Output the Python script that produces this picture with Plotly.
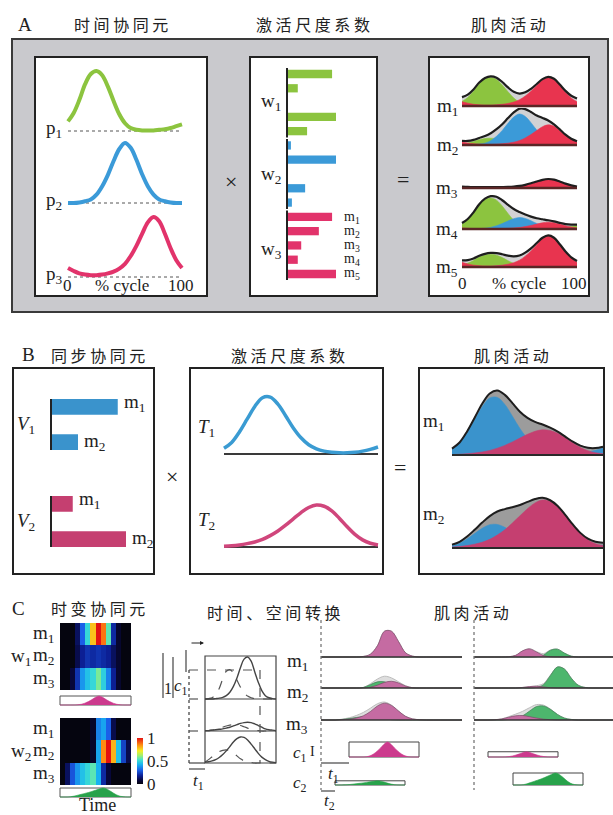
import plotly.graph_objects as go

W, H = 613, 815
SERIF = "Liberation Serif, DejaVu Serif, serif"
CJK = "Noto Sans CJK SC"
INK = "#222222"

# ---------------- data ----------------
cycle = list(range(0, 101, 5))          # % of cycle / time samples

# Panel A: temporal synergies p1..p3
p1 = [0.16, 0.30, 0.52, 0.78, 0.95, 1.00, 0.93, 0.74, 0.50, 0.28, 0.13, 0.05, 0.02, 0.01, 0.01, 0.01, 0.02, 0.03, 0.05, 0.08, 0.11]
p2 = [0.00, 0.00, 0.01, 0.03, 0.06, 0.14, 0.28, 0.47, 0.70, 0.90, 1.00, 0.92, 0.72, 0.48, 0.28, 0.14, 0.06, 0.03, 0.01, 0.00, 0.00]
p3 = [0.15, 0.10, 0.06, 0.04, 0.03, 0.03, 0.04, 0.06, 0.09, 0.14, 0.22, 0.35, 0.52, 0.72, 0.91, 1.00, 0.93, 0.72, 0.48, 0.28, 0.15]
# activation scaling coefficients for muscles m1..m5
w1 = [0.92, 0.22, 0.02, 1.00, 0.41]
w2 = [0.08, 1.00, 0.00, 0.37, 0.10]
w3 = [0.92, 0.65, 0.29, 0.22, 1.00]
muscles5 = ["m<sub>1</sub>", "m<sub>2</sub>", "m<sub>3</sub>", "m<sub>4</sub>", "m<sub>5</sub>"]

# Panel B: synchronous synergies V1, V2 and activation profiles T1, T2
V1 = [0.89, 0.36]
V2 = [0.29, 1.00]
T1 = [0.10, 0.20, 0.38, 0.60, 0.82, 0.97, 0.98, 0.86, 0.66, 0.45, 0.28, 0.16, 0.09, 0.05, 0.03, 0.02, 0.02, 0.03, 0.05, 0.08, 0.12]
T2 = [0.02, 0.03, 0.05, 0.08, 0.12, 0.18, 0.27, 0.38, 0.52, 0.67, 0.82, 0.94, 1.00, 0.97, 0.86, 0.68, 0.48, 0.30, 0.17, 0.09, 0.05]
# contribution of T1 / T2 to muscle m1, m2 activity
B_gain_T1 = [0.98, 0.40]
B_gain_T2 = [0.42, 0.80]

# Panel C: time-varying synergies (rows m1..m3, 14 time bins)
heat_w1 = [
    [0, 0, 0, 0.12, 0.30, 0.50, 0.78, 1.00, 0.88, 0.55, 0.20, 0.06, 0, 0],
    [0, 0, 0, 0.10, 0.18, 0.22, 0.20, 0.22, 0.20, 0.18, 0.12, 0.06, 0, 0],
    [0, 0, 0.08, 0.22, 0.38, 0.45, 0.50, 0.58, 0.48, 0.35, 0.18, 0.06, 0, 0],
]
heat_w2 = [
    [0, 0, 0, 0, 0, 0, 0.05, 0.35, 0.40, 0.30, 0.10, 0, 0, 0],
    [0, 0, 0, 0, 0, 0, 0.05, 0.40, 0.85, 1.00, 0.80, 0.45, 0.25, 0.10],
    [0, 0.12, 0.28, 0.38, 0.45, 0.50, 0.55, 0.42, 0.20, 0.08, 0, 0, 0, 0],
]
act_w1 = [0, 0, 0, 0, 0, 0.02, 0.08, 0.20, 0.38, 0.60, 0.85, 1.00, 0.85, 0.60, 0.38, 0.20, 0.08, 0.02, 0, 0, 0]
act_w2 = [0, 0, 0, 0.03, 0.10, 0.20, 0.30, 0.40, 0.50, 0.62, 0.75, 0.88, 1.00, 0.92, 0.70, 0.45, 0.22, 0.08, 0.02, 0, 0]

# time / space shift sketch: solid = synergy, dashed = shifted & scaled copy
sch_solid = [
    [0, 0, 0, 0.01, 0.02, 0.04, 0.08, 0.16, 0.30, 0.50, 0.75, 0.95, 1.00, 0.90, 0.65, 0.40, 0.20, 0.08, 0.03, 0.01, 0],
    [0.01, 0.01, 0.02, 0.03, 0.04, 0.05, 0.07, 0.09, 0.12, 0.15, 0.18, 0.20, 0.21, 0.20, 0.17, 0.13, 0.09, 0.05, 0.03, 0.02, 0.01],
    [0.02, 0.03, 0.05, 0.08, 0.13, 0.20, 0.29, 0.39, 0.50, 0.58, 0.62, 0.61, 0.55, 0.45, 0.34, 0.23, 0.14, 0.08, 0.04, 0.02, 0.01],
]
sch_dash = [
    [0, 0.01, 0.03, 0.10, 0.25, 0.48, 0.66, 0.70, 0.62, 0.45, 0.28, 0.15, 0.07, 0.03, 0.01, 0, 0, 0, 0, 0, 0],
    [0.01, 0.01, 0.02, 0.04, 0.06, 0.09, 0.12, 0.14, 0.15, 0.15, 0.13, 0.10, 0.07, 0.04, 0.02, 0.01, 0, 0, 0, 0, 0],
    [0.02, 0.08, 0.15, 0.22, 0.27, 0.30, 0.31, 0.29, 0.24, 0.17, 0.10, 0.05, 0.02, 0.01, 0, 0, 0, 0, 0, 0, 0],
]

# muscle activity in two conditions (left / right), synergy-1 part and synergy-2 part
C_left_w1 = [
    [0, 0, 0, 0, 0, 0, 0.02, 0.10, 0.40, 0.92, 0.92, 0.55, 0.15, 0.03, 0, 0, 0, 0, 0, 0, 0],
    [0, 0, 0, 0, 0, 0, 0, 0.03, 0.10, 0.20, 0.24, 0.18, 0.07, 0.01, 0, 0, 0, 0, 0, 0, 0],
    [0, 0, 0, 0.01, 0.03, 0.07, 0.15, 0.30, 0.50, 0.60, 0.52, 0.32, 0.13, 0.04, 0.01, 0, 0, 0, 0, 0, 0],
]
C_left_w2 = [
    [0, 0, 0, 0, 0, 0, 0, 0, 0, 0, 0, 0, 0, 0, 0, 0, 0, 0, 0, 0, 0],
    [0, 0, 0, 0, 0, 0, 0.02, 0.12, 0.22, 0.22, 0.12, 0.04, 0.01, 0, 0, 0, 0, 0, 0, 0, 0],
    [0, 0, 0, 0.02, 0.05, 0.09, 0.12, 0.12, 0.08, 0.04, 0.01, 0, 0, 0, 0, 0, 0, 0, 0, 0, 0],
]
C_right_w1 = [
    [0, 0, 0, 0, 0, 0.01, 0.06, 0.22, 0.29, 0.18, 0.05, 0.01, 0, 0, 0, 0, 0, 0, 0, 0, 0],
    [0, 0, 0, 0, 0, 0, 0, 0.02, 0.05, 0.06, 0.04, 0.01, 0, 0, 0, 0, 0, 0, 0, 0, 0],
    [0, 0, 0, 0.01, 0.04, 0.10, 0.15, 0.16, 0.12, 0.07, 0.03, 0.01, 0, 0, 0, 0, 0, 0, 0, 0, 0],
]
C_right_w2 = [
    [0, 0, 0, 0, 0, 0, 0, 0, 0, 0.01, 0.07, 0.24, 0.28, 0.14, 0.03, 0, 0, 0, 0, 0, 0],
    [0, 0, 0, 0, 0, 0, 0, 0, 0, 0.02, 0.12, 0.45, 0.75, 0.68, 0.35, 0.10, 0.02, 0, 0, 0, 0],
    [0, 0, 0, 0, 0, 0.02, 0.06, 0.15, 0.32, 0.48, 0.50, 0.38, 0.20, 0.07, 0.02, 0, 0, 0, 0, 0, 0],
]
c1 = [1.00, 0.35]     # amplitude of synergy 1 (left, right)
c2 = [0.28, 0.80]     # amplitude of synergy 2 (left, right)

# ---------------- colours ----------------
GREEN_A, BLUE_A, RED_A, RED_FILL_A = "#8cc43f", "#3b9ad8", "#e2336b", "#e8344f"
BLUE_B, RED_B = "#3a93cc", "#c53f70"
MAUVE_C, GREEN_C = "#c56ba2", "#4db66d"
ACT_MAG, ACT_GRN = "#cc3a8d", "#28a24b"
JET_DARK = [[0, "#05050f"], [0.08, "#07073a"], [0.18, "#0c1f94"], [0.30, "#1a5fe8"],
            [0.42, "#18b2f0"], [0.52, "#3ee0d2"], [0.62, "#a2f06e"], [0.72, "#f6ef22"],
            [0.85, "#ff8c12"], [1.0, "#e41212"]]

# ---------------- helpers ----------------
fig = go.Figure()
axes_layout, shapes, notes = {}, [], []
_count = [0]


def axes_map(xpx, xval, ypx, yval, pad=6):
    """Create a hidden axis pair whose data values land on the given pixel spans."""
    _count[0] += 1
    n = _count[0]
    (a0, a1), (v0, v1) = xpx, xval
    sx = (v1 - v0) / (a1 - a0)
    left, right = max(0, a0 - pad), min(W, a1 + pad)
    xr = [v0 - (a0 - left) * sx, v1 + (right - a1) * sx]
    (b0, b1), (u0, u1) = ypx, yval
    sy = (u1 - u0) / (b0 - b1)
    bottom, top = min(H, b0 + pad), max(0, b1 - pad)
    yr = [u0 - (bottom - b0) * sy, u1 + (b1 - top) * sy]
    sfx = "" if n == 1 else str(n)
    axes_layout["xaxis" + sfx] = dict(domain=[left / W, right / W], range=xr, visible=False,
                                      fixedrange=True, anchor="y" + sfx)
    axes_layout["yaxis" + sfx] = dict(domain=[1 - bottom / H, 1 - top / H], range=yr, visible=False,
                                      fixedrange=True, anchor="x" + sfx)
    return "x" + sfx, "y" + sfx


def text(x, y, s, size=16, family=SERIF, color=INK, anchor="center"):
    notes.append(dict(x=x / W, y=1 - y / H, xref="paper", yref="paper", text=s, showarrow=False,
                      font=dict(size=size, family=family, color=color), xanchor=anchor, yanchor="middle"))


def rect(x0, y0, x1, y1, fill="white", line=INK, width=1.5, dash=None, layer="below"):
    shapes.append(dict(type="rect", xref="paper", yref="paper", x0=x0 / W, x1=x1 / W,
                       y0=1 - y1 / H, y1=1 - y0 / H, fillcolor=fill,
                       line=dict(color=line, width=width, dash=dash), layer=layer))


def seg(x0, y0, x1, y1, color=INK, width=1.2, dash=None, layer="above"):
    shapes.append(dict(type="line", xref="paper", yref="paper", x0=x0 / W, x1=x1 / W,
                       y0=1 - y0 / H, y1=1 - y1 / H, line=dict(color=color, width=width, dash=dash),
                       layer=layer))


def line(xa, ya, x, y, color, width, dash=None, shape="spline"):
    fig.add_trace(go.Scatter(x=x, y=y, xaxis=xa, yaxis=ya, mode="lines", hoverinfo="skip",
                             line=dict(color=color, width=width, dash=dash, shape=shape)))


def area(xa, ya, x, y, color, edge=None, width=0.6):
    fig.add_trace(go.Scatter(x=x, y=y, xaxis=xa, yaxis=ya, mode="lines", fill="tozeroy",
                             fillcolor=color, hoverinfo="skip",
                             line=dict(color=edge or color, width=width, shape="spline")))


zeros = [0] * len(cycle)

# =============== Panel A ===============
text(25, 24, "A", 19)
text(121, 24, "时 间 协 同 元", 16, CJK)
text(313, 24, "激 活 尺 度 系 数", 16, CJK)
text(508, 24, "肌 肉 活 动", 16, CJK)
rect(12, 39, 608, 312, fill="#c9c9cd", line="#3a3a3a", width=2)
rect(35, 57, 207, 296, width=2)
rect(250, 57, 377, 296, width=2)
rect(429, 57, 589, 296, width=2)
text(231, 181, "×", 22)
text(403, 179, "=", 22)

# temporal synergies
for i, (vals, base, col) in enumerate(((p1, 131, GREEN_A), (p2, 203, BLUE_A), (p3, 277, RED_A))):
    xa, ya = axes_map((68, 182), (0, 100), (base, base - 60), (0, 1))
    line(xa, ya, cycle, zeros, "#555555", 1, dash="dot", shape="linear")
    line(xa, ya, cycle, vals, col, 4)
    text(54, base - 2, f"p<sub>{i + 1}</sub>", 19)
text(67, 285, "0", 17)
text(122, 285, "% cycle", 17)
text(181, 285, "100", 17)

# activation scaling coefficients as horizontal bars (15 rows, one per muscle per synergy)
xa, ya = axes_map((287, 336), (0, 1), (274, 74), (14, 0))
fig.add_trace(go.Bar(x=w1, y=list(range(0, 5)), orientation="h", width=0.58, base=0,
                     marker=dict(color=GREEN_A, line_width=0), xaxis=xa, yaxis=ya, hoverinfo="skip"))
fig.add_trace(go.Bar(x=w2, y=list(range(5, 10)), orientation="h", width=0.58, base=0,
                     marker=dict(color=BLUE_A, line_width=0), xaxis=xa, yaxis=ya, hoverinfo="skip"))
fig.add_trace(go.Bar(x=w3, y=list(range(10, 15)), orientation="h", width=0.58, base=0,
                     marker=dict(color=RED_A, line_width=0), xaxis=xa, yaxis=ya, hoverinfo="skip"))
for g in range(3):
    line(xa, ya, [0, 0], [5 * g - 0.45, 5 * g + 4.45], INK, 2, shape="linear")
text(271, 102, "w<sub>1</sub>", 19)
text(271, 175, "w<sub>2</sub>", 19)
text(271, 250, "w<sub>3</sub>", 19)
for k, lab in enumerate(muscles5):
    text(352, 217 + k * 14.1, lab, 14)

# muscle activity = sum of scaled synergies
for i, base in enumerate((106, 145, 188, 229, 267)):
    xa, ya = axes_map((462, 577), (0, 100), (base, base - 31), (0, 1))
    g = [w1[i] * v for v in p1]
    b = [w2[i] * v for v in p2]
    r = [w3[i] * v for v in p3]
    env = [gg + bb + rr for gg, bb, rr in zip(g, b, r)]
    area(xa, ya, cycle, env, "#d2d2d4")
    area(xa, ya, cycle, g, GREEN_A)
    area(xa, ya, cycle, b, BLUE_A)
    area(xa, ya, cycle, r, RED_FILL_A)
    line(xa, ya, cycle, env, "#1e1e1e", 2.2)
    line(xa, ya, cycle, zeros, "#5a2626", 2.4, shape="linear")
    text(447, base + 1, muscles5[i], 19)
text(462, 283, "0", 17)
text(519, 283, "% cycle", 17)
text(574, 283, "100", 17)

# =============== Panel B ===============
text(28, 355, "B", 19)
text(98, 355, "同 步 协 同 元", 16, CJK)
text(288, 355, "激 活 尺 度 系 数", 16, CJK)
text(511, 355, "肌 肉 活 动", 16, CJK)
rect(13, 368, 154, 574, width=2)
rect(190, 368, 383, 574, width=2)
rect(419, 368, 604, 574, width=2)
text(172, 477, "×", 22)
text(400, 467, "=", 22)

for vec, top_px, col, lab in ((V1, 405, BLUE_B, "<i>V</i><sub>1</sub>"), (V2, 502, RED_B, "<i>V</i><sub>2</sub>")):
    xa, ya = axes_map((51, 126), (0, 1), (top_px + 39, top_px), (1, 0))
    fig.add_trace(go.Bar(x=vec, y=[0, 1], orientation="h", width=0.5, base=0,
                         marker=dict(color=col, line_width=0), xaxis=xa, yaxis=ya, hoverinfo="skip"))
    line(xa, ya, [0, 0], [-0.27, 1.27], INK, 2, shape="linear")
    text(26, top_px + 20, lab, 19)
    for k in range(2):
        text(51 + vec[k] * 75 + 4, top_px + 39 * k - 2, f"m<sub>{k + 1}</sub>", 19, anchor="left")

for vals, base, amp, col, lab in ((T1, 454, 58, "#3a9bd2", "<i>T</i><sub>1</sub>"),
                                  (T2, 547, 42, "#d0467c", "<i>T</i><sub>2</sub>")):
    xa, ya = axes_map((224, 378), (0, 100), (base, base - amp), (0, 1))
    line(xa, ya, cycle, zeros, "#3a3a3a", 2, shape="linear")
    line(xa, ya, cycle, vals, col, 3.5)
    text(206, base - 26, lab, 19)

for i, base in enumerate((455, 548)):
    xa, ya = axes_map((452, 603), (0, 100), (base, base - 60), (0, 1))
    b = [B_gain_T1[i] * v for v in T1]
    r = [B_gain_T2[i] * v for v in T2]
    env = [bb + rr for bb, rr in zip(b, r)]
    area(xa, ya, cycle, env, "#9c9c9c")
    area(xa, ya, cycle, b, BLUE_B)
    area(xa, ya, cycle, r, RED_B)
    line(xa, ya, cycle, env, "#1e1e1e", 2)
    line(xa, ya, cycle, zeros, "#2a2a2a", 2, shape="linear")
    text(433, base - 33, f"m<sub>{i + 1}</sub>", 19)

# =============== Panel C ===============
text(18, 608, "C", 19)
text(98, 608, "时 变 协 同 元", 16, CJK)
text(274, 612, "时 间 、 空 间 转 换", 16, CJK)
text(471, 612, "肌 肉 活 动", 16, CJK)

bins = list(range(14))
rows3 = [0, 1, 2]
for heat, top_px, act, act_col, lab, scale in ((heat_w1, 623, act_w1, ACT_MAG, "w<sub>1</sub>", False),
                                              (heat_w2, 718, act_w2, ACT_GRN, "w<sub>2</sub>", True)):
    xa, ya = axes_map((60, 131), (-0.5, 13.5), (top_px + 67, top_px), (2.5, -0.5), pad=0)
    hm = dict(z=heat, x=bins, y=rows3, xaxis=xa, yaxis=ya, colorscale=JET_DARK, zmin=0, zmax=1,
              hoverinfo="skip", showscale=scale)
    if scale:
        hm["colorbar"] = dict(thickness=6, thicknessmode="pixels", len=46, lenmode="pixels",
                              x=137 / W, xanchor="left", y=1 - 761 / H, yanchor="middle",
                              xpad=0, ypad=0, outlinewidth=0, ticks="",
                              tickvals=[0, 0.5, 1], ticktext=["0", "0.5", "1"],
                              tickfont=dict(size=17, family=SERIF, color=INK))
    fig.add_trace(go.Heatmap(**hm))
    for k in range(3):
        text(44, top_px + 11 + k * 22.3, f"m<sub>{k + 1}</sub>", 19)
    text(21, top_px + 34, lab, 19)
    box_top = top_px + 73 if not scale else 788
    rect(60, box_top, 131, box_top + 9, line="#555555", width=1)
    xa, ya = axes_map((60, 131), (0, 100), (box_top + 9, box_top), (0, 1), pad=1)
    area(xa, ya, cycle, act, act_col)
text(97, 805, "Time", 18)

# shift / scale sketch
rect(205, 656, 276, 763, fill="rgba(0,0,0,0)", line="#444444", width=1.2, layer="above")
for r_i, base in enumerate((699, 731, 763)):
    xa, ya = axes_map((205, 276), (0, 100), (base, base - 42), (0, 1), pad=2)
    line(xa, ya, cycle, sch_dash[r_i], "#555555", 1.2, dash="dash")
    line(xa, ya, cycle, sch_solid[r_i], "#444444", 1.4)
seg(205, 699, 276, 699, "#444444", 1.2)
seg(205, 731, 276, 731, "#444444", 1.2)
seg(189, 670, 260, 670, "#555555", 1.2, dash="dash")
seg(189, 670, 189, 763, "#555555", 1.4, dash="dot")
seg(260, 670, 260, 763, "#555555", 1.2, dash="dash")
seg(189, 699, 205, 699, "#555555", 1.2, dash="dash")
seg(189, 731, 205, 731, "#555555", 1.2, dash="dash")
seg(189, 763, 205, 763, "#444444", 1.2)
seg(189, 769, 205, 769, "#444444", 1.2)
seg(163, 653, 163, 698, "#444444", 1.2)
seg(173, 657, 173, 698, "#444444", 1.2)
seg(186, 650, 186, 672, "#444444", 1.2)
notes.append(dict(x=204 / W, y=1 - 643 / H, xref="paper", yref="paper", ax=-14, ay=0, text="",
                  showarrow=True, arrowhead=2, arrowsize=0.8, arrowwidth=1, arrowcolor=INK))
text(168, 688, "1", 16)
text(181, 687, "<i>c</i><sub>1</sub>", 17)
text(198, 782, "<i>t</i><sub>1</sub>", 17)

# muscle activity under two conditions
seg(321, 620, 321, 790, "#777777", 1.3, dash="dot")
seg(474, 620, 474, 790, "#777777", 1.3, dash="dot")
for (x0, x1, part1, part2) in ((321, 462, C_left_w1, C_left_w2), (474, 613, C_right_w1, C_right_w2)):
    for k, base in enumerate((657, 688, 720)):
        xa, ya = axes_map((x0, x1), (0, 100), (base, base - 28), (0, 1), pad=3)
        env = [a + b for a, b in zip(part1[k], part2[k])]
        area(xa, ya, cycle, env, "#dedede", edge="#bdbdbd", width=1)
        area(xa, ya, cycle, part2[k], GREEN_C, edge="#3f7f55", width=0.7)
        area(xa, ya, cycle, part1[k], MAUVE_C, edge="#7d4a68", width=0.7)
        line(xa, ya, [0, 100], [0, 0], "#333333", 1.3, shape="linear")
for k, base in enumerate((657, 688, 720)):
    text(297, base + 5, f"m<sub>{k + 1}</sub>", 19)

# scaled / shifted activation boxes
for x0, bottom, coef, act, col in ((349, 757, c1[0], act_w1, ACT_MAG),
                                   (335, 785, c2[0], act_w2, ACT_GRN),
                                   (488, 757, c1[1], act_w1, ACT_MAG),
                                   (513, 785, c2[1], act_w2, ACT_GRN)):
    top = bottom - coef * 15
    rect(x0, top, x0 + 70, bottom, line="#444444", width=1)
    xa, ya = axes_map((x0, x0 + 70), (0, 100), (bottom, top), (0, 1), pad=1)
    area(xa, ya, cycle, act, col)
seg(321, 763, 349, 763, "#444444", 1.2)
seg(321, 791, 335, 791, "#444444", 1.2)
text(333, 775, "<i>t</i><sub>1</sub>", 17)
text(329, 802, "<i>t</i><sub>2</sub>", 17)
text(300, 754, "<i>c</i><sub>1</sub>", 17)
text(312, 751, "I", 14)
text(300, 784, "<i>c</i><sub>2</sub>", 17)

fig.update_layout(width=W, height=H, margin=dict(l=0, r=0, t=0, b=0), showlegend=False,
                  paper_bgcolor="white", plot_bgcolor="rgba(0,0,0,0)", barmode="overlay",
                  shapes=shapes, annotations=notes, **axes_layout)
fig.write_html("out.html")
